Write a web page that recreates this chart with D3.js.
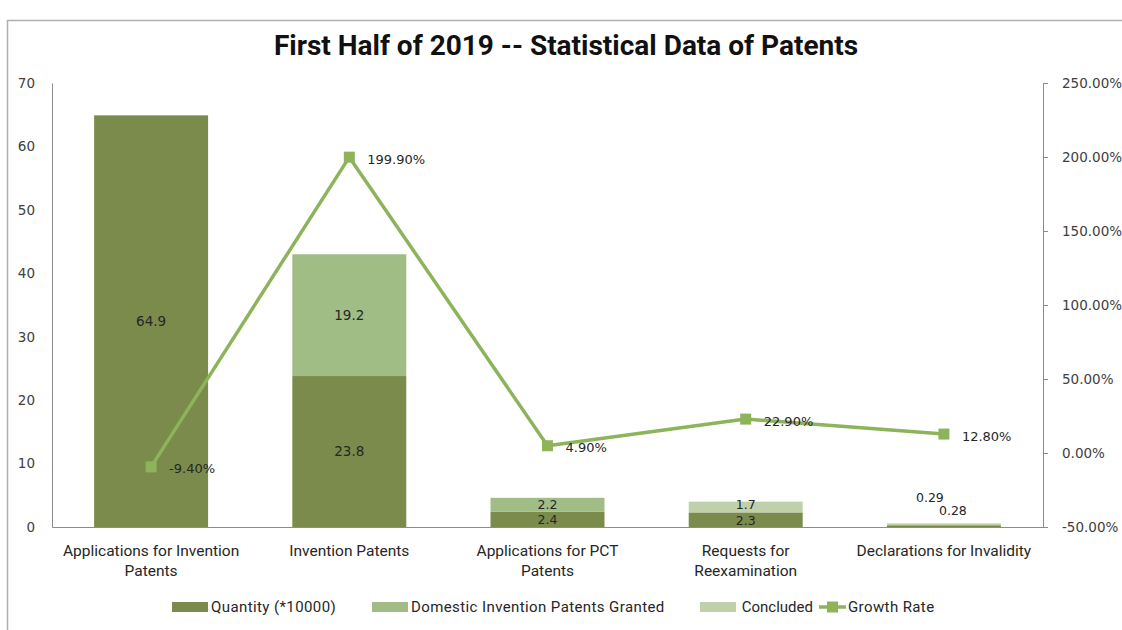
<!DOCTYPE html>
<html>
<head>
<meta charset="utf-8">
<script src="https://cdn.jsdelivr.net/npm/d3@7"></script>
<style>
  body { margin: 0; background: #fff; }
  svg { display: block; }
  .tick text { fill: #404040; }
</style>
</head>
<body>
<svg id="chart" width="1122" height="630"></svg>
<script>
// data
const categories = [
  ["Applications for Invention", "Patents"],
  ["Invention Patents"],
  ["Applications for PCT", "Patents"],
  ["Requests for", "Reexamination"],
  ["Declarations for Invalidity"]
];
const quantity = [64.9, 23.8, 2.4, 2.3, 0.28];
const domesticGranted = [0, 19.2, 2.2, 0, 0];
const concluded = [0, 0, 0, 1.7, 0.29];
const growthRate = [-9.4, 199.9, 4.9, 22.9, 12.8];
const leftTicks = [0, 10, 20, 30, 40, 50, 60, 70];
const rightTicks = [-50, 0, 50, 100, 150, 200, 250];

const seriesNames = ["Quantity (*10000)", "Domestic Invention Patents Granted", "Concluded"];
const seriesColors = ["#7a8b4b", "#a0bd86", "#bfd0ab"];
const lineColor = "#8db35b";

// manual nudges for labels on thin segments (category index|series index)
const labelNudge = { "4|0": [9, -15], "4|2": [-14, -27], "3|0": [0, 1], "3|2": [0, -2] };

const svg = d3.select("#chart");
const width = +svg.attr("width");
const height = +svg.attr("height");
const margin = { top: 83, right: 79, bottom: 103, left: 52 };
const chartWidth = width - margin.left - margin.right;
const chartHeight = height - margin.top - margin.bottom;

// frame
svg.append("path")
  .attr("d", `M7.5,${height}V20.5H${width}`)
  .attr("fill", "none")
  .attr("stroke", "#b0b0b0")
  .attr("stroke-width", 1.5);

// title
svg.append("text")
  .attr("x", 566)
  .attr("y", 55)
  .attr("text-anchor", "middle")
  .style("font-family", "Roboto, 'Open Sans', sans-serif")
  .style("font-weight", "bold")
  .style("font-size", "28px")
  .attr("fill", "#111")
  .text("First Half of 2019 -- Statistical Data of Patents");

const idx = categories.map((d, i) => i);

const xScale = d3.scaleBand()
  .domain(idx)
  .range([0, chartWidth])
  .paddingInner(0.425)
  .paddingOuter(0.2125);

const yLeft = d3.scaleLinear().domain([0, 70]).range([chartHeight, 0]);
const yRight = d3.scaleLinear().domain([-50, 250]).range([chartHeight, 0]);

const g = svg.append("g").attr("transform", `translate(${margin.left},${margin.top})`);

// stacked bars
const rows = idx.map(i => ({ i: i, s0: quantity[i], s1: domesticGranted[i], s2: concluded[i] }));
const stack = d3.stack().keys(["s0", "s1", "s2"]);
const stacked = stack(rows);

const barsG = g.append("g");
stacked.forEach((layer, si) => {
  barsG.selectAll(".bar-" + si)
    .data(layer.filter(d => d[1] - d[0] > 0))
    .enter()
    .append("rect")
    .attr("x", d => xScale(d.data.i))
    .attr("width", xScale.bandwidth())
    .attr("y", d => yLeft(d[1]))
    .attr("height", d => yLeft(d[0]) - yLeft(d[1]))
    .attr("fill", seriesColors[si]);
});

// axes
const axisColor = "#8c8c8c";
const leftAxis = g.append("g")
  .call(d3.axisLeft(yLeft).tickValues(leftTicks).tickSize(0).tickPadding(17));
const rightAxis = g.append("g")
  .attr("transform", `translate(${chartWidth},0)`)
  .call(d3.axisRight(yRight).tickValues(rightTicks).tickSize(5).tickPadding(14)
    .tickFormat(d => d.toFixed(2) + "%"));
[leftAxis, rightAxis].forEach(a => {
  a.select(".domain").attr("stroke", axisColor);
  a.selectAll(".tick line").attr("stroke", axisColor);
  a.selectAll("text")
    .style("font-family", "'DejaVu Sans', sans-serif")
    .style("font-size", "13.5px");
});

const bottomAxis = g.append("g")
  .attr("transform", `translate(0,${chartHeight})`)
  .call(d3.axisBottom(xScale).tickSize(0).tickFormat(""));
bottomAxis.select(".domain").attr("stroke", axisColor);

// category labels
const catG = g.append("g");
categories.forEach((lines, i) => {
  const t = catG.append("text")
    .attr("x", xScale(i) + xScale.bandwidth() / 2)
    .attr("y", chartHeight + 29)
    .attr("text-anchor", "middle")
    .style("font-family", "Roboto, 'Open Sans', sans-serif")
    .style("font-size", "15.5px")
    .attr("fill", "#262626");
  lines.forEach((ln, k) => {
    t.append("tspan")
      .attr("x", xScale(i) + xScale.bandwidth() / 2)
      .attr("dy", k === 0 ? 0 : 20)
      .text(ln);
  });
});

// growth line
const lineGen = d3.line()
  .x(i => xScale(i) + xScale.bandwidth() / 2)
  .y(i => yRight(growthRate[i]));

g.append("path")
  .datum(idx)
  .attr("d", lineGen)
  .attr("fill", "none")
  .attr("stroke", lineColor)
  .attr("stroke-width", 3.5)
  .attr("stroke-linejoin", "round");

const mk = 11;
g.selectAll(".marker")
  .data(idx)
  .enter()
  .append("rect")
  .attr("x", i => xScale(i) + xScale.bandwidth() / 2 - mk / 2)
  .attr("y", i => yRight(growthRate[i]) - mk / 2)
  .attr("width", mk)
  .attr("height", mk)
  .attr("fill", lineColor);

// bar value labels
const labelFont = "'DejaVu Sans', sans-serif";
stacked.forEach((layer, si) => {
  layer.filter(d => d[1] - d[0] > 0).forEach(d => {
    const nudge = labelNudge[d.data.i + "|" + si] || [0, 0];
    const v = d[1] - d[0];
    g.append("text")
      .attr("x", xScale(d.data.i) + xScale.bandwidth() / 2 + nudge[0])
      .attr("y", (yLeft(d[0]) + yLeft(d[1])) / 2 + nudge[1])
      .attr("dy", "0.35em")
      .attr("text-anchor", "middle")
      .style("font-family", labelFont)
      .style("font-size", v < 5 ? "12.5px" : "13.5px")
      .attr("fill", "#262626")
      .text(v < 1 ? d3.format(".2f")(v) : d3.format(".1f")(v));
  });
});

// growth labels
g.selectAll(".glabel")
  .data(idx)
  .enter()
  .append("text")
  .attr("x", i => xScale(i) + xScale.bandwidth() / 2 + 18)
  .attr("y", i => yRight(growthRate[i]) + 2)
  .attr("dy", "0.35em")
  .style("font-family", labelFont)
  .style("font-size", "13px")
  .attr("fill", "#262626")
  .text(i => growthRate[i].toFixed(2) + "%");

// legend
const legend = svg.append("g").attr("transform", "translate(0,607)");
const legendFont = "Roboto, 'Open Sans', sans-serif";
const swatchX = [172, 372, 700];
seriesNames.forEach((name, si) => {
  legend.append("rect")
    .attr("x", swatchX[si])
    .attr("y", -5)
    .attr("width", 36)
    .attr("height", 10)
    .attr("fill", seriesColors[si]);
  legend.append("text")
    .attr("x", si === 2 ? 813 : swatchX[si] + 39)
    .attr("y", 0)
    .attr("dy", "0.35em")
    .attr("text-anchor", si === 2 ? "end" : "start")
    .style("font-family", legendFont)
    .style("font-size", "15px")
    .style("letter-spacing", si === 2 ? "0px" : "0.4px")
    .attr("fill", "#262626")
    .text(name);
});
legend.append("line")
  .attr("x1", 819).attr("x2", 846)
  .attr("y1", 0).attr("y2", 0)
  .attr("stroke", lineColor)
  .attr("stroke-width", 3.5);
legend.append("rect")
  .attr("x", 827).attr("y", -5.5)
  .attr("width", 11).attr("height", 11)
  .attr("fill", lineColor);
legend.append("text")
  .attr("x", 848)
  .attr("y", 0)
  .attr("dy", "0.35em")
  .style("font-family", legendFont)
  .style("font-size", "15px")
  .style("letter-spacing", "0.4px")
  .attr("fill", "#262626")
  .text("Growth Rate");
</script>
</body>
</html>
